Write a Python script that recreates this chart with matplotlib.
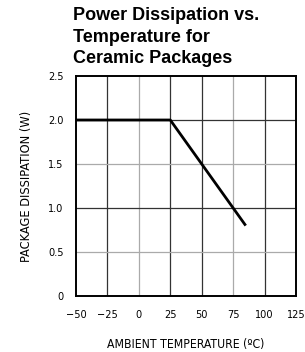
import matplotlib
matplotlib.use("Agg")
import matplotlib.pyplot as plt
from matplotlib import font_manager

cond = [f for f in font_manager.fontManager.ttflist
        if f.name == 'DejaVu Sans' and f.stretch == 'condensed' and f.weight in (400, 'normal') and f.style == 'normal']
narrow_kw = dict(family='DejaVu Sans', fontstretch='condensed') if cond else dict(family='DejaVu Sans')

temps = [-50, 25, 85]
power = [2.0, 2.0, 0.8]
xticks = [-50, -25, 0, 25, 50, 75, 100, 125]
yticks = [0, 0.5, 1.0, 1.5, 2.0, 2.5]
ytick_labels = ['0', '0.5', '1.0', '1.5', '2.0', '2.5']

fig = plt.figure(figsize=(3.05, 3.52), dpi=100)
W, H = 305, 352
ax = fig.add_axes([76 / W, 1 - 296 / H, 220 / W, 220 / H])

ax.set_xlim(-50, 125)
ax.set_ylim(0, 2.5)

dark = '#333333'
light = '#aaaaaa'
vcols = {-25: dark, 0: light, 25: dark, 50: dark, 75: light, 100: dark}
for x, c in vcols.items():
    ax.axvline(x, color=c, lw=0.9, zorder=1)
hcols = {0.5: light, 1.0: dark, 1.5: light, 2.0: dark}
for y, c in hcols.items():
    ax.axhline(y, color=c, lw=0.9, zorder=1)

ax.plot(temps, power, color='black', lw=2.0, zorder=3, solid_capstyle='butt')

ax.set_xticks(xticks)
ax.set_xticklabels([str(t).replace('-', '\u2212') for t in xticks], fontsize=7.8, **narrow_kw)
ax.set_yticks(yticks)
ax.set_yticklabels(ytick_labels, fontsize=7.8, **narrow_kw)
ax.tick_params(axis='x', length=0, pad=10)
ax.tick_params(axis='y', length=0, pad=9)
for s in ax.spines.values():
    s.set_linewidth(1.4)
    s.set_color('black')

ax.set_xlabel('AMBIENT TEMPERATURE (\u00baC)', fontsize=8.7, labelpad=13, **narrow_kw)
ax.set_ylabel('PACKAGE DISSIPATION (W)', fontsize=9.2, labelpad=11, **narrow_kw)

fig.text(73 / W, 1 - 7 / H, 'Power Dissipation vs.\nTemperature for\nCeramic Packages',
         ha='left', va='top', fontsize=13, fontweight='bold', family='Liberation Sans',
         linespacing=1.36)

fig.savefig('out.png', dpi=100)
